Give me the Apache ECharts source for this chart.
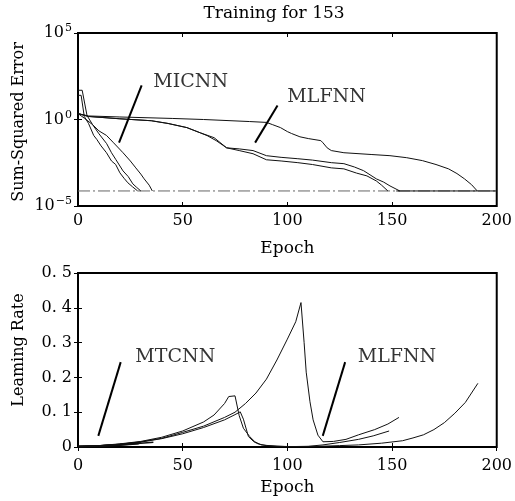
<!DOCTYPE html>
<html>
<head>
<meta charset="utf-8">
<script src="https://cdn.jsdelivr.net/npm/echarts@6/dist/echarts.min.js"></script>
<style>html,body{margin:0;padding:0;background:#fff}#c{width:515px;height:501px}</style>
</head>
<body>
<div id="c"></div>
<script>
// ---------- data ----------
const titleText = 'Training for 153';
const xTicks = [0, 50, 100, 150, 200];
const errTickExponents = {'-5': '−5', '0': '0', '5': '5'};
const lrTickLabels = ['0', '0. 1', '0. 2', '0. 3', '0. 4', '0. 5'];

// top: sum-squared error (epoch, error)
const micnnErrA = [[0,25],[1.5,25],[3,1.5],[5,0.6],[7.5,0.12],[9,0.07],[11,0.03],[13.6,0.012],[16,0.004],[18,0.0025],[20,8.3e-4],[22,4e-4],[23.8,2.2e-4],[26,1.3e-4],[28.5,7.4e-5]];
const micnnErrB = [[0,49],[2,49],[4.3,1.7],[7,0.5],[10,0.15],[13.7,0.04],[16,0.012],[18,0.005],[21.5,1.07e-3],[24,5e-4],[26.2,1.9e-4],[28,1.2e-4],[30,7.4e-5]];
const micnnErrC = [[0,2.2],[3,1.2],[7,0.5],[10,0.22],[13.6,0.12],[17,0.045],[21.5,0.012],[25,0.004],[27.6,1.6e-3],[30,7e-4],[31.6,3.7e-4],[34,1.6e-4],[35.5,7.4e-5]];
const mlfnnErrD = [[0,2.2],[5,1.6],[20,1.4],[45,1.15],[60,1.0],[82,0.76],[90,0.68],[93,0.5],[96.7,0.34],[100,0.2],[102,0.155],[106,0.1],[110,0.079],[116,0.06],[117,0.045],[119,0.023],[121,0.016],[127,0.012],[140,0.0095],[149,0.0081],[157,0.0062],[164.5,0.0042],[171,0.0025],[177,0.0014],[181,7.5e-4],[184.6,3.7e-4],[188,1.7e-4],[190.7,7.4e-5]];
const mlfnnErrE = [[0,2.2],[5,1.5],[20,1.1],[35,0.85],[43,0.59],[52,0.34],[58.4,0.17],[61.7,0.117],[66,0.06],[71,0.023],[77,0.02],[83.6,0.016],[90,0.0081],[97,0.0065],[105,0.0054],[112,0.0045],[121,0.0032],[127,0.0028],[132,0.0018],[136.4,0.0011],[142.5,3.7e-4],[146,2.4e-4],[149,1.45e-4],[153.7,7.4e-5]];
const mlfnnErrF = [[0,2.2],[5,1.5],[20,1.1],[35,0.85],[43,0.59],[52,0.34],[58.4,0.17],[65,0.089],[71,0.023],[77,0.016],[83.6,0.0105],[90,0.0047],[97,0.004],[105,0.0032],[112,0.0025],[121,0.0016],[127,0.0014],[133,8e-4],[138,5.5e-4],[142.5,2.8e-4],[145,1.6e-4],[148,7.4e-5]];
const goalErr = [[0,7.4e-5],[200,7.4e-5]];
const goalErrEnd = [[152,7.4e-5],[200,7.4e-5]];

// bottom: learning rate (epoch, rate)
const mlfnnLrP = [[0,0.002],[10,0.004],[20,0.008],[30,0.015],[40,0.025],[50,0.042],[60,0.06],[70,0.085],[75,0.1],[80,0.125],[85,0.155],[90,0.195],[95,0.25],[100,0.31],[104,0.36],[106.5,0.415],[108,0.3],[109,0.215],[109.5,0.22],[110.8,0.13],[112.3,0.078],[114.6,0.034],[117,0.015],[122,0.016],[128,0.022],[134,0.035],[141.7,0.05],[148,0.066],[153.3,0.085]];
const mlfnnLrQ = [[0,0.002],[10,0.004],[20,0.009],[30,0.016],[40,0.028],[50,0.046],[60,0.072],[65,0.092],[70,0.125],[72,0.145],[75,0.147],[77,0.09],[79,0.054],[82,0.03],[84.5,0.015],[87.5,0.006],[95,0.002],[105,0.001],[115,0.002],[125,0.004],[134,0.006],[145,0.011],[155,0.018],[160,0.026],[165,0.035],[170,0.05],[175,0.07],[180,0.097],[185,0.128],[191,0.183]];
const mlfnnLrR = [[0,0.002],[10,0.004],[20,0.008],[30,0.014],[40,0.024],[50,0.038],[60,0.056],[70,0.078],[75,0.093],[77.5,0.101],[79,0.08],[81.4,0.03],[84,0.015],[86,0.009],[90,0.004],[100,0.001],[110,0.002],[117,0.006],[125,0.013],[134,0.022],[141,0.032],[148.6,0.046]];
const mtcnnLr1 = [[0,0.001],[10,0.002],[20,0.005],[29,0.009]];
const mtcnnLr2 = [[0,0.002],[10,0.003],[20,0.007],[30,0.012]];
const mtcnnLr3 = [[0,0.001],[12,0.003],[24,0.008],[36,0.014]];

// annotation pointers (data coordinates)
const ptrTopMICNN = [[30.4,95],[19.6,0.046]];
const ptrTopMLFNN = [[95.3,6.5],[84.6,0.046]];
const ptrBotMTCNN = [[20.4,0.244],[9.7,0.032]];
const ptrBotMLFNN = [[127.6,0.244],[116.9,0.032]];
const lblTop = [{name:'MICNN', at:[36,148]}, {name:'MLFNN', at:[100,20]}];
const lblBot = [{name:'MTCNN', at:[27.4,0.259]}, {name:'MLFNN', at:[133.6,0.259]}];

// ---------- chart ----------
const FONT = '"DejaVu Serif", "Liberation Serif", serif';
const chart = echarts.init(document.getElementById('c'), null, {renderer: 'canvas'});

function curve(data, xi, yi, extra) {
  return Object.assign({
    type: 'line', data: data, xAxisIndex: xi, yAxisIndex: yi,
    showSymbol: false, symbol: 'none', silent: true, animation: false,
    lineStyle: {color: '#111', width: 1}
  }, extra || {});
}
function labelSeries(items, xi, yi) {
  return {
    type: 'scatter', xAxisIndex: xi, yAxisIndex: yi, symbolSize: 0, silent: true, animation: false,
    data: items.map(d => ({value: d.at, name: d.name})),
    label: {show: true, position: 'right', distance: 0, formatter: p => p.name,
            color: '#000', fontFamily: FONT, fontSize: 19}
  };
}

const axTickStyle = {inside: true, length: 4, lineStyle: {color: '#000', width: 1}};
const xLabel = {color: '#000', fontFamily: FONT, fontSize: 16};

const option = {
  animation: false,
  backgroundColor: '#fff',
  grid: [
    {left: 78, right: 9, top: 33, height: 173, show: true, borderColor: '#000', borderWidth: 2, backgroundColor: 'transparent'},
    {left: 78, right: 6, top: 273, height: 174, show: true, borderColor: '#000', borderWidth: 2, backgroundColor: 'transparent'}
  ],
  xAxis: [
    {gridIndex: 0, type: 'value', min: 0, max: 200, interval: 50, position: 'bottom',
     axisLine: {show: false}, axisTick: axTickStyle, splitLine: {show: false},
     axisLabel: Object.assign({margin: 7, formatter: v => xTicks.includes(v) ? String(v) : ''}, xLabel),
     name: 'Epoch', nameLocation: 'middle', nameGap: 34,
     nameTextStyle: {color: '#000', fontFamily: FONT, fontSize: 17}},
    {gridIndex: 0, type: 'value', min: 0, max: 200, interval: 50, position: 'top',
     axisLine: {show: false}, axisTick: axTickStyle, splitLine: {show: false}, axisLabel: {show: false}},
    {gridIndex: 1, type: 'value', min: 0, max: 200, interval: 50, position: 'bottom',
     axisLine: {show: false}, axisTick: axTickStyle, splitLine: {show: false},
     axisLabel: Object.assign({margin: 11, formatter: v => xTicks.includes(v) ? String(v) : ''}, xLabel),
     name: 'Epoch', nameLocation: 'middle', nameGap: 32,
     nameTextStyle: {color: '#000', fontFamily: FONT, fontSize: 17}},
    {gridIndex: 1, type: 'value', min: 0, max: 200, interval: 50, position: 'top',
     axisLine: {show: false}, axisTick: axTickStyle, splitLine: {show: false}, axisLabel: {show: false}}
  ],
  yAxis: [
    {gridIndex: 0, type: 'log', logBase: 10, min: 1e-5, max: 1e5, interval: 5, position: 'left',
     axisLine: {show: false}, axisTick: axTickStyle, splitLine: {show: false}, minorTick: {show: false},
     axisLabel: {margin: 6, color: '#000', fontFamily: FONT, fontSize: 16,
       formatter: v => {
         const e = Math.round(Math.log10(v));
         const s = errTickExponents[String(e)];
         return s === undefined ? '' : '10{sup|' + s + '}';
       },
       rich: {sup: {fontFamily: FONT, fontSize: 11, color: '#000', padding: [0, 0, 9, 1]}}}},
    {gridIndex: 0, type: 'log', logBase: 10, min: 1e-5, max: 1e5, interval: 5, position: 'right',
     axisLine: {show: false}, axisTick: axTickStyle, splitLine: {show: false}, axisLabel: {show: false}},
    {gridIndex: 1, type: 'value', min: 0, max: 0.5, interval: 0.1, position: 'left',
     axisLine: {show: false}, axisTick: axTickStyle, splitLine: {show: false},
     axisLabel: Object.assign({margin: 6, formatter: v => lrTickLabels[Math.round(v * 10)] || ''}, xLabel)},
    {gridIndex: 1, type: 'value', min: 0, max: 0.5, interval: 0.1, position: 'right',
     axisLine: {show: false}, axisTick: axTickStyle, splitLine: {show: false}, axisLabel: {show: false}}
  ],
  graphic: [
    {type: 'text', x: 274, y: 14, style: {text: titleText, font: '17px ' + FONT, fill: '#000', align: 'center', verticalAlign: 'middle'}},
    {type: 'text', x: 19, y: 122, rotation: Math.PI / 2, style: {text: 'Sum-Squared Error', font: '16px ' + FONT, fill: '#000', align: 'center', verticalAlign: 'middle'}},
    {type: 'text', x: 19, y: 350, rotation: Math.PI / 2, style: {text: 'Leaming Rate', font: '16px ' + FONT, fill: '#000', align: 'center', verticalAlign: 'middle'}}
  ],
  series: [
    curve(goalErr, 0, 0, {lineStyle: {color: '#666', width: 1, type: [12, 3, 2, 3]}}),
    curve(goalErrEnd, 0, 0, {lineStyle: {color: '#111', width: 1}}),
    curve(micnnErrA, 0, 0), curve(micnnErrB, 0, 0), curve(micnnErrC, 0, 0),
    curve(mlfnnErrD, 0, 0), curve(mlfnnErrE, 0, 0), curve(mlfnnErrF, 0, 0),
    curve(ptrTopMICNN, 0, 0, {lineStyle: {color: '#000', width: 2}}),
    curve(ptrTopMLFNN, 0, 0, {lineStyle: {color: '#000', width: 2}}),
    labelSeries(lblTop, 0, 0),
    curve(mtcnnLr1, 2, 2, {lineStyle: {color: '#111', width: 1.5}}),
    curve(mtcnnLr2, 2, 2, {lineStyle: {color: '#111', width: 1.5}}),
    curve(mtcnnLr3, 2, 2, {lineStyle: {color: '#111', width: 1.5}}),
    curve(mlfnnLrP, 2, 2), curve(mlfnnLrQ, 2, 2), curve(mlfnnLrR, 2, 2),
    curve(ptrBotMTCNN, 2, 2, {lineStyle: {color: '#000', width: 2}}),
    curve(ptrBotMLFNN, 2, 2, {lineStyle: {color: '#000', width: 2}}),
    labelSeries(lblBot, 2, 2)
  ]
};
chart.setOption(option);
</script>
</body>
</html>
